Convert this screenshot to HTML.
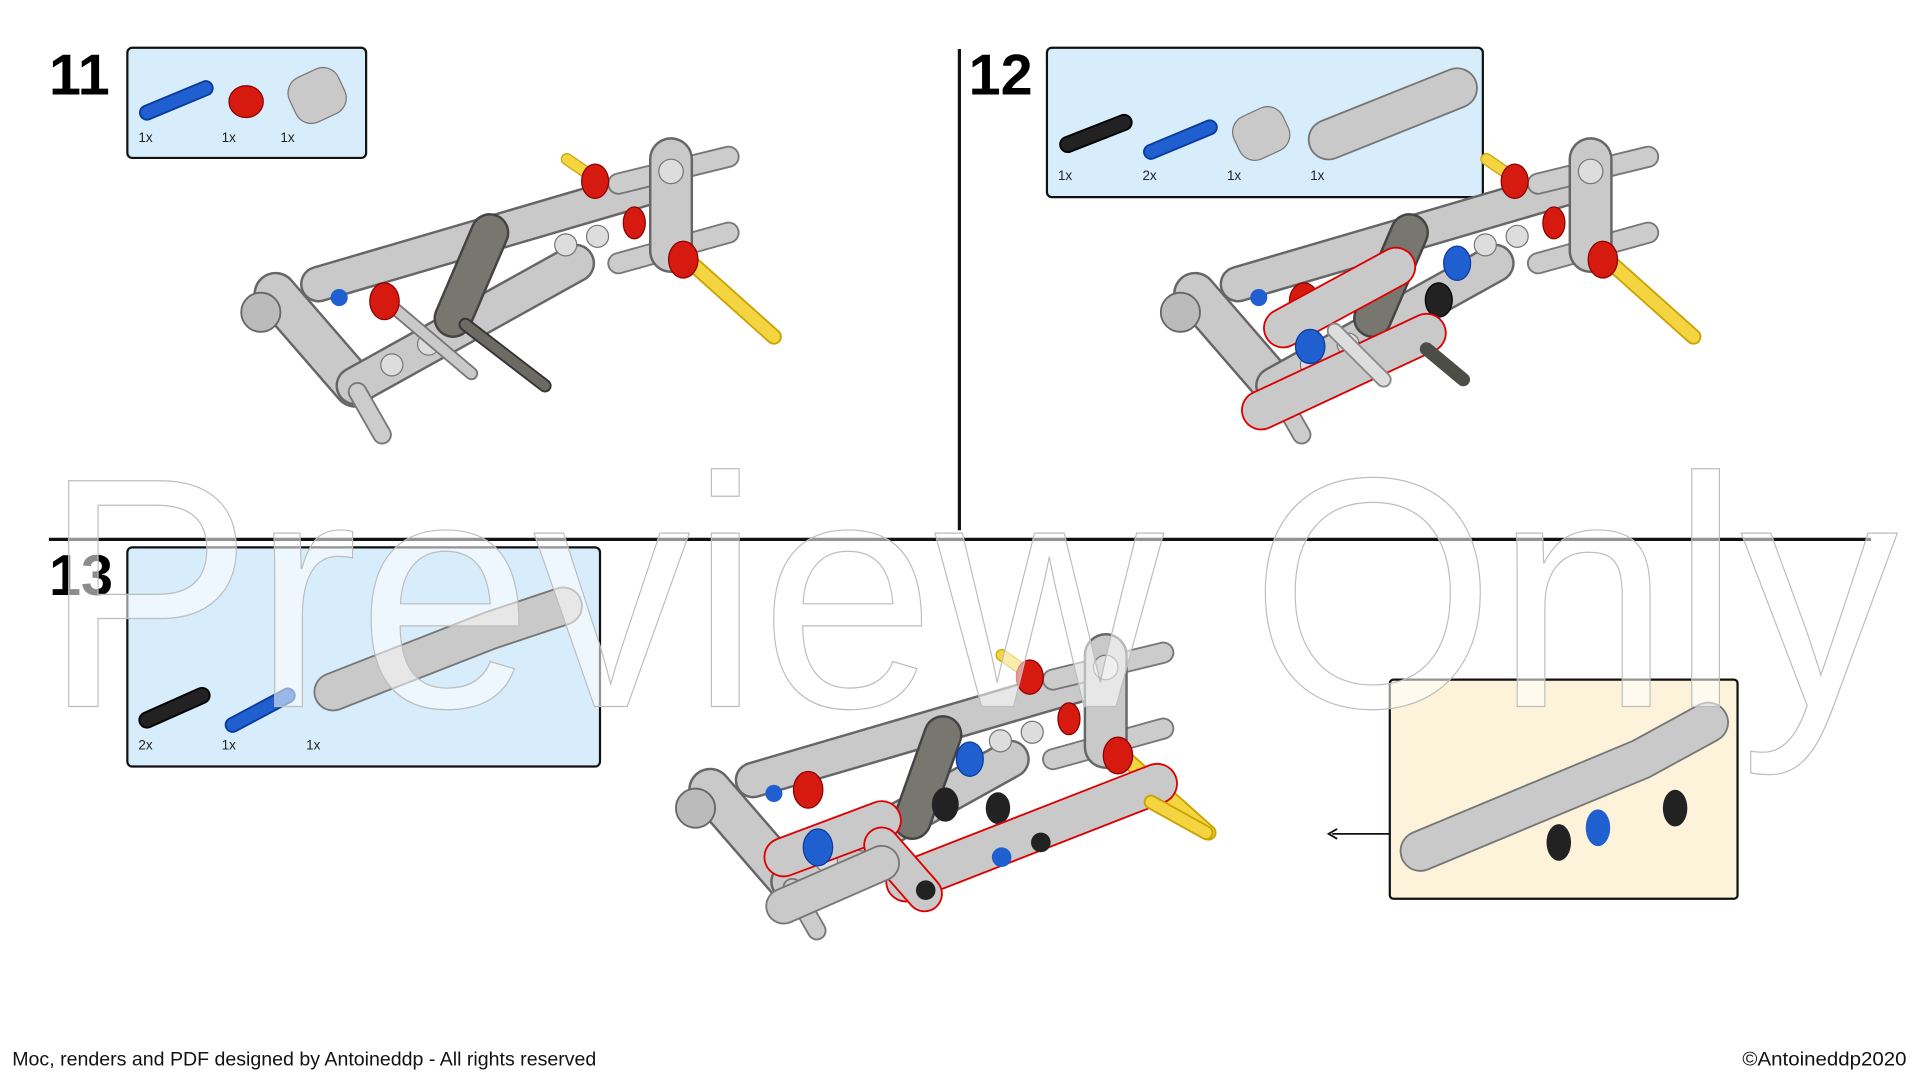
<!DOCTYPE html>
<html><head><meta charset="utf-8"><style>
html,body{margin:0;padding:0;background:#fff;width:1920px;height:1080px;overflow:hidden}
svg{display:block}
</style></head><body>
<svg width="1920" height="1080" viewBox="0 0 1568 882" xmlns="http://www.w3.org/2000/svg" font-family="Liberation Sans, sans-serif">
<defs>
<g id="base">
  <line x1="225" y1="240" x2="290" y2="315" stroke="#666" stroke-width="36" stroke-linecap="round"/>
  <line x1="225" y1="240" x2="290" y2="315" stroke="#c9c9c9" stroke-width="32" stroke-linecap="round"/>
  <circle cx="213" cy="255" r="16" fill="#bbb" stroke="#666" stroke-width="1.5"/>
  <line x1="290" y1="315" x2="470" y2="215" stroke="#666" stroke-width="32" stroke-linecap="round"/>
  <line x1="290" y1="315" x2="470" y2="215" stroke="#c9c9c9" stroke-width="28" stroke-linecap="round"/>
  <circle cx="320" cy="298" r="9" fill="#ddd" stroke="#777"/><circle cx="350" cy="281" r="9" fill="#ddd" stroke="#777"/>
  <line x1="260" y1="232" x2="540" y2="150" stroke="#666" stroke-width="30" stroke-linecap="round"/>
  <line x1="260" y1="232" x2="540" y2="150" stroke="#c9c9c9" stroke-width="26" stroke-linecap="round"/>
  <circle cx="462" cy="200" r="9" fill="#ddd" stroke="#777"/><circle cx="488" cy="193" r="9" fill="#ddd" stroke="#777"/>
  <circle cx="277" cy="243" r="7" fill="#1f5fd0"/>
  <line x1="505" y1="150" x2="595" y2="128" stroke="#777" stroke-width="18" stroke-linecap="round"/>
  <line x1="505" y1="150" x2="595" y2="128" stroke="#ccc" stroke-width="15" stroke-linecap="round"/>
  <line x1="505" y1="215" x2="595" y2="190" stroke="#777" stroke-width="18" stroke-linecap="round"/>
  <line x1="505" y1="215" x2="595" y2="190" stroke="#ccc" stroke-width="15" stroke-linecap="round"/>
  <line x1="548" y1="130" x2="548" y2="205" stroke="#666" stroke-width="36" stroke-linecap="round"/>
  <line x1="548" y1="130" x2="548" y2="205" stroke="#c9c9c9" stroke-width="32" stroke-linecap="round"/>
  <circle cx="548" cy="140" r="10" fill="#ddd" stroke="#777"/>
  <line x1="463" y1="130" x2="485" y2="145" stroke="#c9a400" stroke-width="10" stroke-linecap="round"/>
  <line x1="463" y1="130" x2="485" y2="145" stroke="#f5d442" stroke-width="8" stroke-linecap="round"/>
  <line x1="565" y1="215" x2="632" y2="275" stroke="#c9a400" stroke-width="13" stroke-linecap="round"/>
  <line x1="565" y1="215" x2="632" y2="275" stroke="#f5d442" stroke-width="10" stroke-linecap="round"/>
  <ellipse cx="486" cy="148" rx="11" ry="14" fill="#d61a0f" stroke="#8a0000"/>
  <ellipse cx="518" cy="182" rx="9" ry="13" fill="#d61a0f" stroke="#8a0000"/>
  <ellipse cx="558" cy="212" rx="12" ry="15" fill="#d61a0f" stroke="#8a0000"/>
  <line x1="292" y1="320" x2="312" y2="355" stroke="#777" stroke-width="16" stroke-linecap="round"/>
  <line x1="292" y1="320" x2="312" y2="355" stroke="#ccc" stroke-width="13" stroke-linecap="round"/>
</g>
</defs>

<text x="40" y="77" font-size="47" font-weight="bold" fill="#000">11</text>
<rect x="104" y="39" width="195" height="90" rx="4" fill="#d7edfb" stroke="#111" stroke-width="1.8"/>
<g>
  <line x1="120" y1="92" x2="168" y2="72" stroke="#0b3a9e" stroke-width="13" stroke-linecap="round"/>
  <line x1="120" y1="92" x2="168" y2="72" stroke="#1f5fd0" stroke-width="10" stroke-linecap="round"/>
  <ellipse cx="201" cy="83" rx="14" ry="13" fill="#d61a0f" stroke="#8a0000"/>
  <rect x="237" y="58" width="44" height="40" rx="14" fill="#c9c9c9" stroke="#777" transform="rotate(-25 259 78)"/>
  <text x="113" y="116" font-size="11" fill="#222">1x</text>
  <text x="181" y="116" font-size="11" fill="#222">1x</text>
  <text x="229" y="116" font-size="11" fill="#222">1x</text>
</g>
<use href="#base"/>
<line x1="400" y1="190" x2="370" y2="260" stroke="#444" stroke-width="32" stroke-linecap="round"/>
<line x1="400" y1="190" x2="370" y2="260" stroke="#77776f" stroke-width="28" stroke-linecap="round"/>
<line x1="380" y1="265" x2="445" y2="315" stroke="#333" stroke-width="11" stroke-linecap="round"/>
<line x1="380" y1="265" x2="445" y2="315" stroke="#6b6b63" stroke-width="8" stroke-linecap="round"/>
<line x1="320" y1="250" x2="385" y2="305" stroke="#777" stroke-width="11" stroke-linecap="round"/>
<line x1="320" y1="250" x2="385" y2="305" stroke="#c9c9c9" stroke-width="8" stroke-linecap="round"/>
<ellipse cx="314" cy="246" rx="12" ry="15" fill="#d61a0f" stroke="#8a0000"/>

<line x1="783.5" y1="40" x2="783.5" y2="433" stroke="#111" stroke-width="2.6"/>
<line x1="40" y1="440.5" x2="1528" y2="440.5" stroke="#111" stroke-width="2.6"/>

<text x="791" y="77" font-size="47" font-weight="bold" fill="#000">12</text>
<rect x="855" y="39" width="356" height="122" rx="4" fill="#d7edfb" stroke="#111" stroke-width="1.8"/>
<g>
  <line x1="872" y1="118" x2="918" y2="100" stroke="#000" stroke-width="14" stroke-linecap="round"/>
  <line x1="872" y1="118" x2="918" y2="100" stroke="#222" stroke-width="11" stroke-linecap="round"/>
  <line x1="940" y1="124" x2="988" y2="104" stroke="#0b3a9e" stroke-width="13" stroke-linecap="round"/>
  <line x1="940" y1="124" x2="988" y2="104" stroke="#1f5fd0" stroke-width="10" stroke-linecap="round"/>
  <rect x="1008" y="90" width="44" height="38" rx="14" fill="#c9c9c9" stroke="#777" transform="rotate(-25 1030 109)"/>
  <line x1="1085" y1="114" x2="1190" y2="72" stroke="#777" stroke-width="34" stroke-linecap="round"/>
  <line x1="1085" y1="114" x2="1190" y2="72" stroke="#c9c9c9" stroke-width="31" stroke-linecap="round"/>
  <text x="864" y="147" font-size="11" fill="#222">1x</text>
  <text x="933" y="147" font-size="11" fill="#222">2x</text>
  <text x="1002" y="147" font-size="11" fill="#222">1x</text>
  <text x="1070" y="147" font-size="11" fill="#222">1x</text>
</g>
<use href="#base" x="751" y="0"/>
<line x1="1151" y1="190" x2="1121" y2="260" stroke="#444" stroke-width="32" stroke-linecap="round"/>
<line x1="1151" y1="190" x2="1121" y2="260" stroke="#77776f" stroke-width="28" stroke-linecap="round"/>
<ellipse cx="1065" cy="246" rx="12" ry="15" fill="#d61a0f" stroke="#8a0000"/>
<ellipse cx="1190" cy="215" rx="11" ry="14" fill="#1f5fd0" stroke="#0b3a9e"/>
<ellipse cx="1175" cy="245" rx="11" ry="14" fill="#222" stroke="#000"/>
<line x1="1048" y1="268" x2="1140" y2="218" stroke="#d00" stroke-width="33" stroke-linecap="round"/>
<line x1="1048" y1="268" x2="1140" y2="218" stroke="#c9c9c9" stroke-width="30" stroke-linecap="round"/>
<line x1="1030" y1="335" x2="1165" y2="272" stroke="#d00" stroke-width="33" stroke-linecap="round"/>
<line x1="1030" y1="335" x2="1165" y2="272" stroke="#c9c9c9" stroke-width="30" stroke-linecap="round"/>
<line x1="1165" y1="285" x2="1195" y2="310" stroke="#4d4d47" stroke-width="11" stroke-linecap="round"/>
<line x1="1090" y1="270" x2="1130" y2="310" stroke="#888" stroke-width="13" stroke-linecap="round"/>
<line x1="1090" y1="270" x2="1130" y2="310" stroke="#ddd" stroke-width="10" stroke-linecap="round"/>
<ellipse cx="1070" cy="283" rx="12" ry="14" fill="#1f5fd0" stroke="#0b3a9e"/>

<rect x="104" y="447" width="386" height="179" rx="4" fill="#d7edfb" stroke="#111" stroke-width="1.8"/>
<text x="40" y="486" font-size="47" font-weight="bold" fill="#000">13</text>
<g>
  <line x1="120" y1="588" x2="165" y2="568" stroke="#000" stroke-width="14" stroke-linecap="round"/>
  <line x1="120" y1="588" x2="165" y2="568" stroke="#222" stroke-width="11" stroke-linecap="round"/>
  <line x1="190" y1="592" x2="235" y2="568" stroke="#0b3a9e" stroke-width="13" stroke-linecap="round"/>
  <line x1="190" y1="592" x2="235" y2="568" stroke="#1f5fd0" stroke-width="10" stroke-linecap="round"/>
  <polyline points="272,565 400,515 460,495" fill="none" stroke="#777" stroke-width="32" stroke-linecap="round" stroke-linejoin="round"/>
  <polyline points="272,565 400,515 460,495" fill="none" stroke="#c9c9c9" stroke-width="29" stroke-linecap="round" stroke-linejoin="round"/>
  <text x="113" y="612" font-size="11" fill="#222">2x</text>
  <text x="181" y="612" font-size="11" fill="#222">1x</text>
  <text x="250" y="612" font-size="11" fill="#222">1x</text>
</g>
<use href="#base" x="355" y="405"/>
<line x1="770" y1="600" x2="745" y2="670" stroke="#444" stroke-width="32" stroke-linecap="round"/>
<line x1="770" y1="600" x2="745" y2="670" stroke="#77776f" stroke-width="28" stroke-linecap="round"/>
<ellipse cx="660" cy="645" rx="12" ry="15" fill="#d61a0f" stroke="#8a0000"/>
<ellipse cx="792" cy="620" rx="11" ry="14" fill="#1f5fd0" stroke="#0b3a9e"/>
<ellipse cx="772" cy="657" rx="11" ry="14" fill="#222"/>
<ellipse cx="815" cy="660" rx="10" ry="13" fill="#222"/>
<line x1="640" y1="700" x2="720" y2="670" stroke="#d00" stroke-width="33" stroke-linecap="round"/>
<line x1="640" y1="700" x2="720" y2="670" stroke="#c9c9c9" stroke-width="30" stroke-linecap="round"/>
<line x1="740" y1="720" x2="945" y2="640" stroke="#d00" stroke-width="34" stroke-linecap="round"/>
<line x1="740" y1="720" x2="945" y2="640" stroke="#c9c9c9" stroke-width="31" stroke-linecap="round"/>
<line x1="720" y1="690" x2="755" y2="730" stroke="#d00" stroke-width="30" stroke-linecap="round"/>
<line x1="720" y1="690" x2="755" y2="730" stroke="#c9c9c9" stroke-width="27" stroke-linecap="round"/>
<line x1="640" y1="740" x2="720" y2="705" stroke="#777" stroke-width="30" stroke-linecap="round"/>
<line x1="640" y1="740" x2="720" y2="705" stroke="#c9c9c9" stroke-width="27" stroke-linecap="round"/>
<ellipse cx="668" cy="692" rx="12" ry="15" fill="#1f5fd0" stroke="#0b3a9e"/>
<circle cx="818" cy="700" r="8" fill="#1f5fd0"/>
<circle cx="850" cy="688" r="8" fill="#222"/>
<circle cx="756" cy="727" r="8" fill="#222"/>
<line x1="940" y1="655" x2="985" y2="680" stroke="#c9a400" stroke-width="12" stroke-linecap="round"/>
<line x1="940" y1="655" x2="985" y2="680" stroke="#f5d442" stroke-width="9" stroke-linecap="round"/>

<rect x="1135" y="555" width="284" height="179" rx="3" fill="#fdf3da" stroke="#111" stroke-width="1.8"/>
<line x1="1135" y1="681" x2="1088" y2="681" stroke="#111" stroke-width="1.5"/>
<polyline points="1092,677 1085,681 1092,685" fill="none" stroke="#111" stroke-width="1.5"/>
<polyline points="1160,695 1340,620 1395,590" fill="none" stroke="#777" stroke-width="34" stroke-linecap="round" stroke-linejoin="round"/>
<polyline points="1160,695 1340,620 1395,590" fill="none" stroke="#c9c9c9" stroke-width="31" stroke-linecap="round" stroke-linejoin="round"/>
<ellipse cx="1273" cy="688" rx="10" ry="15" fill="#222"/>
<ellipse cx="1305" cy="676" rx="10" ry="15" fill="#1f5fd0"/>
<ellipse cx="1368" cy="660" rx="10" ry="15" fill="#222"/>

<text x="35" y="577" font-size="268" textLength="1515" lengthAdjust="spacingAndGlyphs" fill="#ffffff" fill-opacity="0.55" stroke="#bdbdbd" stroke-width="1">Preview Only</text>

<text x="10" y="870" font-size="16" fill="#111" textLength="477" lengthAdjust="spacingAndGlyphs">Moc, renders and PDF designed by Antoineddp - All rights reserved</text>
<text x="1423" y="870" font-size="16" fill="#111" textLength="134" lengthAdjust="spacingAndGlyphs">©Antoineddp2020</text>
</svg>
</body></html>
